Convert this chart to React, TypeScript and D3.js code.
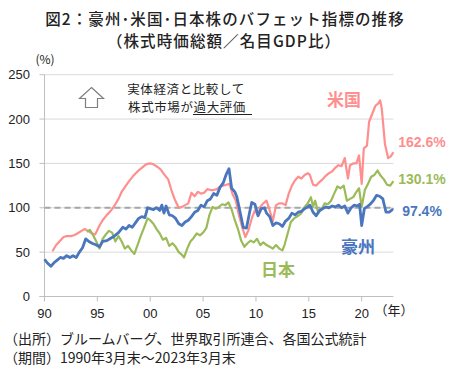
import React from "react";
import * as d3 from "d3";

const W = 450;
const H = 371;

const yTicks = [0, 50, 100, 150, 200, 250];
const xTickYears = [1990, 1995, 2000, 2005, 2010, 2015, 2020];
const xTickLabels = ["90", "95", "00", "05", "10", "15", "20"];

const ausYears = [1990.0,1990.25,1990.6,1990.9,1991.2,1991.5,1991.8,1992.1,1992.4,1992.7,1993.0,1993.3,1993.6,1993.9,1994.2,1994.5,1994.9,1995.2,1995.5,1995.9,1996.3,1996.6,1997.0,1997.4,1997.7,1998.0,1998.3,1998.6,1998.9,1999.2,1999.5,1999.75,2000.0,2000.3,2000.6,2000.9,2001.1,2001.3,2001.5,2001.8,2002.1,2002.4,2002.7,2003.0,2003.3,2003.6,2003.9,2004.2,2004.5,2004.8,2005.1,2005.4,2005.7,2006.0,2006.3,2006.6,2006.9,2007.2,2007.45,2007.7,2008.0,2008.2,2008.5,2008.8,2009.1,2009.4,2009.6,2009.9,2010.2,2010.5,2010.8,2011.0,2011.3,2011.6,2011.9,2012.2,2012.5,2012.8,2013.1,2013.4,2013.7,2014.0,2014.3,2014.6,2014.9,2015.1,2015.4,2015.7,2016.0,2016.3,2016.6,2016.9,2017.2,2017.5,2017.8,2018.1,2018.4,2018.7,2019.0,2019.3,2019.6,2019.8,2020.0,2020.25,2020.5,2020.8,2021.1,2021.4,2021.7,2022.0,2022.3,2022.6,2022.9,2023.0];
const ausValues = [42,38,34,38,41,44,43,46,44,46,44,50,55,65,62,60,58,56,62,63,66,68,72,78,76,80,78,83,88,90,89,100,99,98,100,97,103,94,102,92,91,88,82,80,84,86,90,95,97,103,101,108,110,116,114,123,128,138,144,122,118,112,95,78,77,95,106,104,91,99,100,94,90,80,83,82,79,85,88,94,92,95,96,99,101,103,95,91,97,99,101,100,102,101,103,100,102,94,100,103,102,104,80,99,101,104,108,114,113,110,95,95,98,97.4];

const usYears = [1990.75,1991.1,1991.5,1991.8,1992.1,1992.5,1992.8,1993.1,1993.5,1993.8,1994.1,1994.5,1994.8,1995.2,1995.5,1995.9,1996.3,1996.6,1997.0,1997.3,1997.7,1998.0,1998.4,1998.8,1999.2,1999.6,2000.0,2000.3,2000.7,2001.0,2001.3,2001.7,2002.0,2002.3,2002.7,2003.0,2003.3,2003.6,2003.9,2004.2,2004.5,2004.8,2005.1,2005.4,2005.7,2006.0,2006.3,2006.6,2006.9,2007.2,2007.5,2007.8,2008.1,2008.4,2008.7,2009.0,2009.3,2009.6,2009.9,2010.2,2010.4,2010.7,2011.0,2011.3,2011.6,2011.9,2012.2,2012.5,2012.8,2013.1,2013.4,2013.7,2014.0,2014.3,2014.6,2014.9,2015.1,2015.4,2015.7,2016.0,2016.3,2016.6,2016.9,2017.2,2017.5,2017.8,2018.1,2018.4,2018.7,2018.9,2019.2,2019.5,2019.75,2020.0,2020.2,2020.5,2020.7,2021.0,2021.3,2021.6,2021.75,2021.9,2022.2,2022.5,2022.75,2023.0];
const usValues = [51,58,63,67,68,68,69,71,74,76,74,71,70,80,86,92,97,102,110,118,125,130,136,141,145,149,150,149,146,143,138,132,120,110,100,101,103,105,117,113,118,116,117,121,120,120,121,124,125,126,127,115,108,91,78,67,75,88,97,91,101,105,108,97,85,103,105,105,103,116,125,131,135,133,137,139,137,126,125,129,132,136,139,141,145,148,147,156,133,148,150,150,159,127,167,170,197,206,215,218,221,212,172,156,158,162.6];

const jpYears = [1994.0,1994.3,1994.6,1994.9,1995.2,1995.5,1995.8,1996.1,1996.4,1996.7,1997.0,1997.3,1997.6,1997.9,1998.2,1998.5,1998.8,1999.1,1999.4,1999.75,2000.0,2000.3,2000.6,2000.9,2001.2,2001.5,2001.8,2002.1,2002.4,2002.7,2003.0,2003.2,2003.5,2003.8,2004.1,2004.4,2004.7,2005.0,2005.3,2005.6,2005.9,2006.2,2006.5,2006.8,2007.1,2007.4,2007.7,2008.0,2008.3,2008.6,2008.9,2009.2,2009.5,2009.8,2010.1,2010.4,2010.7,2011.0,2011.3,2011.6,2011.9,2012.2,2012.5,2012.7,2013.0,2013.3,2013.6,2014.0,2014.3,2014.6,2014.9,2015.2,2015.4,2015.6,2015.9,2016.2,2016.5,2016.8,2017.1,2017.4,2017.7,2018.0,2018.3,2018.6,2018.9,2019.2,2019.5,2019.75,2020.0,2020.3,2020.6,2020.9,2021.2,2021.5,2021.8,2022.1,2022.4,2022.7,2023.0];
const jpValues = [73,75,69,62,54,65,70,74,72,62,68,62,54,57,52,48,58,68,77,88,86,82,76,71,64,66,57,60,56,50,47,44,54,62,66,71,69,72,77,92,101,99,101,104,103,106,98,86,76,63,56,60,63,61,65,58,61,58,56,54,58,54,52,58,71,84,88,91,94,101,105,112,101,108,94,98,105,104,108,116,124,122,125,108,110,112,118,122,101,120,127,135,137,142,136,132,126,125,130.1];

const US_COLOR = "#FF8F8F";
const JP_COLOR = "#9BBB59";
const AUS_COLOR = "#4A76BE";

const JP_FONT = "'Noto Sans CJK JP', 'Noto Sans', sans-serif";
const NUM_FONT = "'Liberation Sans', Arial, sans-serif";

export default function App() {
  const x = d3.scaleLinear().domain([1990, 2023]).range([44.5, 393.4]);
  const y = d3.scaleLinear().domain([0, 250]).range([296.5, 74.7]);

  const mk = (yrs: number[], vals: number[]) =>
    d3
      .line<number>()
      .x((_, i) => x(yrs[i]))
      .y((v) => y(v))(vals) || "";

  const usPath = mk(usYears, usValues);
  const jpPath = mk(jpYears, jpValues);
  const ausPath = mk(ausYears, ausValues);

  const x0 = x(1990);
  const x1 = x(2023);

  return (
    <svg
      width={W}
      height={H}
      style={{ position: "absolute", left: 0, top: 0, background: "#fff" }}
    >
      {/* Title */}
      <text x={225} y={24.5} textAnchor="middle" fontFamily={JP_FONT} fontSize={15.5} fontWeight={500} letterSpacing={1.1} fill="#222">
        図2：豪州･米国･日本株のバフェット指標の推移
      </text>
      <text x={224} y={46.5} textAnchor="middle" fontFamily={JP_FONT} fontSize={15.5} fontWeight={500} letterSpacing={1.1} fill="#222">
        （株式時価総額／名目GDP比）
      </text>

      {/* (%) */}
      <text x={45} y={64} textAnchor="middle" fontFamily={JP_FONT} fontSize={12} fill="#222">
        (%)
      </text>

      {/* gridlines */}
      {yTicks.filter((t) => t > 0).map((t) => (
        <line key={"g" + t} x1={x0} x2={x1} y1={y(t)} y2={y(t)} stroke="#D9D9D9" strokeWidth={1} />
      ))}
      {/* y axis */}
      <line x1={x0} x2={x0} y1={y(250)} y2={y(0)} stroke="#BFBFBF" strokeWidth={1} />
      {yTicks.map((t) => (
        <g key={"yt" + t}>
          <line x1={x0 - 5} x2={x0} y1={y(t)} y2={y(t)} stroke="#BFBFBF" />
          <text x={30} y={y(t) + 4.5} textAnchor="end" fontFamily={NUM_FONT} fontSize={13} fill="#222">
            {t}
          </text>
        </g>
      ))}
      {/* x axis */}
      <line x1={x0 - 5} x2={x1} y1={y(0)} y2={y(0)} stroke="#BFBFBF" strokeWidth={1} />
      {xTickYears.map((yr, i) => (
        <g key={"xt" + yr}>
          <line x1={x(yr)} x2={x(yr)} y1={y(0)} y2={y(0) + 5} stroke="#BFBFBF" />
          <text x={x(yr)} y={318} textAnchor="middle" fontFamily={NUM_FONT} fontSize={13} fill="#222">
            {xTickLabels[i]}
          </text>
        </g>
      ))}
      <text x={394} y={315} textAnchor="middle" fontFamily={JP_FONT} fontSize={13} fill="#222">
        （年）
      </text>

      {/* 100 dashed reference */}
      <line x1={x0} x2={x1} y1={y(100)} y2={y(100)} stroke="#A6A6A6" strokeWidth={2} strokeDasharray="6,4" />

      {/* series */}
      <path d={usPath} fill="none" stroke={US_COLOR} strokeWidth={2.2} strokeLinejoin="round" />
      <path d={jpPath} fill="none" stroke={JP_COLOR} strokeWidth={2.2} strokeLinejoin="round" />
      <path d={ausPath} fill="none" stroke={AUS_COLOR} strokeWidth={2.8} strokeLinejoin="round" />

      {/* annotation */}
      <path
        d="M91.5,87.5 L103.5,98.5 L97.5,98.5 L97.5,107.5 L85.5,107.5 L85.5,98.5 L79.5,98.5 Z"
        fill="#fff"
        stroke="#7F7F7F"
        strokeWidth={1.2}
      />
      <text x={186} y={94} textAnchor="middle" fontFamily={JP_FONT} fontSize={12.5} letterSpacing={0.6} fill="#222">
        実体経済と比較して
      </text>
      <text x={187} y={112} textAnchor="middle" fontFamily={JP_FONT} fontSize={12.5} letterSpacing={0.6} fill="#222">
        株式市場が過大評価
      </text>
      <line x1={193} x2={252} y1={114.5} y2={114.5} stroke="#222" strokeWidth={1} />

      {/* series labels */}
      <text x={344} y={106} textAnchor="middle" fontFamily={JP_FONT} fontSize={17} fontWeight={700} fill={US_COLOR}>
        米国
      </text>
      <text x={422} y={147} textAnchor="middle" fontFamily={NUM_FONT} fontSize={14} fontWeight={700} fill={US_COLOR}>
        162.6%
      </text>
      <text x={422} y={184} textAnchor="middle" fontFamily={NUM_FONT} fontSize={14} fontWeight={700} fill={JP_COLOR}>
        130.1%
      </text>
      <text x={422} y={216} textAnchor="middle" fontFamily={NUM_FONT} fontSize={14} fontWeight={700} fill={AUS_COLOR}>
        97.4%
      </text>
      <text x={358} y={253} textAnchor="middle" fontFamily={JP_FONT} fontSize={17} fontWeight={700} fill={AUS_COLOR}>
        豪州
      </text>
      <text x={278} y={276} textAnchor="middle" fontFamily={JP_FONT} fontSize={17} fontWeight={700} fill={JP_COLOR}>
        日本
      </text>

      {/* source */}
      <text x={4} y={344} fontFamily={JP_FONT} fontSize={14} fill="#222">
        （出所）ブルームバーグ、世界取引所連合、各国公式統計
      </text>
      <text x={4} y={363} fontFamily={JP_FONT} fontSize={14} fill="#222">
        （期間）1990年3月末～2023年3月末
      </text>
    </svg>
  );
}
